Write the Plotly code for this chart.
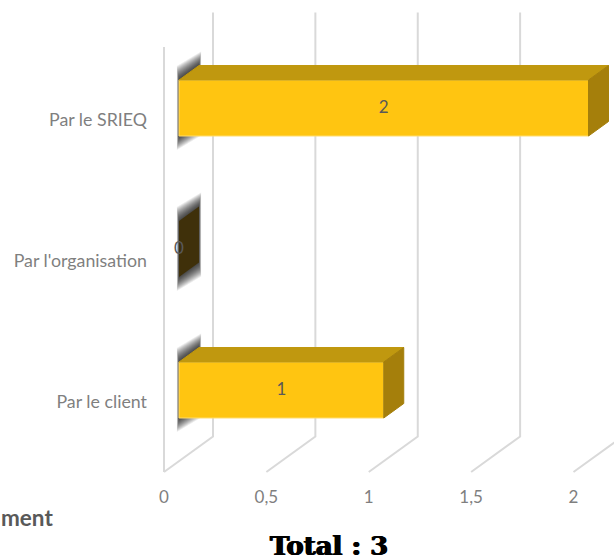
import plotly.graph_objects as go

categories = ["Par le client", "Par l'organisation", "Par le SRIEQ"]
values = [1, 0, 2]
x_ticks = [0, 0.5, 1, 1.5, 2]
x_tick_labels = ["0", "0,5", "1", "1,5", "2"]
total_label = "Total : 3"
cut_title = "ment"

FRONT, TOP, SIDE, LEFT = "#FFC511", "#C0980F", "#A57F0B", "#3F300A"
EDGE = "#FFDC6E"
GRID, TICK = "#D9D9D9", "#7F7F7F"

PX_X, PX_Y = 204.75, 141.0      # pixels per value unit / per category
L, H, FH = 150, 483, 558
def px_dx(p): return p / PX_X
def px_dy(p): return p / PX_Y

OFFSET = px_dx(15)
HALF = px_dy(28)
DX, DY = px_dx(20), px_dy(14.5)
GDX, GDY = px_dx(49), px_dy(35.5)
FLOOR = -82 / PX_Y
FRONT_TOP = 343 / PX_Y + 0
BACK_TOP = FLOOR + GDY + px_dy(424)

ys = list(range(len(categories)))
shapes = []

def poly(pts):
    return "M " + " L ".join(f"{a:.4f},{b:.4f}" for a, b in pts) + " Z"

# grid walls
for t in x_ticks:
    shapes.append(dict(type="path", layer="below", xref="x", yref="y",
                       path=f"M {t},{FLOOR:.4f} L {t+GDX:.4f},{FLOOR+GDY:.4f} L {t+GDX:.4f},{BACK_TOP:.4f}",
                       line=dict(color=GRID, width=2)))
shapes.append(dict(type="line", layer="below", xref="x", yref="y", x0=0, x1=0,
                   y0=FLOOR, y1=FRONT_TOP, line=dict(color=GRID, width=2)))

# soft shadow + dark end cap at each bar's base
for y in ys:
    x0 = OFFSET
    for k in range(14, 0, -1):
        ex, ey = px_dx(k * 0.15), px_dy(k)
        shapes.append(dict(type="path", layer="below", xref="x", yref="y",
                           path=poly([(x0 - ex, y + HALF + ey), (x0 + DX + ex, y + HALF + DY + ey),
                                      (x0 + DX + ex, y - HALF + DY - ey), (x0 - ex, y - HALF - ey)]),
                           fillcolor="rgba(0,0,0,0.08)", line=dict(width=0)))
    shapes.append(dict(type="path", layer="below", xref="x", yref="y",
                       path=poly([(x0, y + HALF), (x0 + DX, y + HALF + DY),
                                  (x0 + DX, y - HALF + DY), (x0, y - HALF)]),
                       fillcolor=LEFT, line=dict(width=0)))

fig = go.Figure()

fig.add_trace(go.Bar(y=ys, x=values, base=[OFFSET] * len(values), orientation="h", width=2 * HALF,
                     marker=dict(color=FRONT, line=dict(color=EDGE, width=[1 if v else 0 for v in values])),
                     hoverinfo="skip", showlegend=False))

for y, v in zip(ys, values):
    if v <= 0:
        continue
    xe = OFFSET + v
    fig.add_trace(go.Scatter(x=[OFFSET, xe, xe + DX, OFFSET + DX, OFFSET],
                             y=[y + HALF, y + HALF, y + HALF + DY, y + HALF + DY, y + HALF],
                             mode="lines", fill="toself", fillcolor=TOP,
                             line=dict(color=TOP, width=1), hoverinfo="skip", showlegend=False))
    fig.add_trace(go.Scatter(x=[xe, xe + DX, xe + DX, xe, xe],
                             y=[y + HALF, y + HALF + DY, y - HALF + DY, y - HALF, y + HALF],
                             mode="lines", fill="toself", fillcolor=SIDE,
                             line=dict(color=SIDE, width=1), hoverinfo="skip", showlegend=False))

fig.add_trace(go.Scatter(x=[OFFSET + v / 2 for v in values], y=[y - px_dy(1) for y in ys],
                         text=[str(v) for v in values], mode="text", textposition="middle center",
                         textfont=dict(family="Lato", size=17, color="#595959"),
                         hoverinfo="skip", showlegend=False))

W = 614 - L
LABEL_DROP = px_dy(12)
fig.update_layout(
    width=614, height=FH, margin=dict(l=L, r=0, t=0, b=FH - H),
    paper_bgcolor="white", plot_bgcolor="white", shapes=shapes, showlegend=False,
    xaxis=dict(range=[-14 / PX_X, -14 / PX_X + W / PX_X], tickvals=x_ticks, ticktext=x_tick_labels,
               showgrid=False, zeroline=False, showline=False, ticks="", fixedrange=True,
               tickfont=dict(family="Lato", size=17, color=TICK), ticklabelstandoff=2),
    yaxis=dict(range=[(390 - H) / PX_Y, 390 / PX_Y], tickvals=[y - LABEL_DROP for y in ys], ticktext=categories,
               showgrid=False, zeroline=False, showline=False, ticks="", fixedrange=True,
               tickfont=dict(family="Lato", size=17.8, color=TICK), ticklabelstandoff=2),
    annotations=[
        dict(text=f"<b>{cut_title}</b>", xref="paper", yref="paper", x=(55 - L) / W, y=(H - 517) / H,
             xanchor="right", yanchor="middle", showarrow=False,
             font=dict(family="Lato", size=22.5, color="#595959")),
        dict(text=f"<b>{total_label}</b>", xref="paper", yref="paper", x=(329 - L) / W, y=(H - 546) / H,
             xanchor="center", yanchor="middle", showarrow=False,
             font=dict(family="DejaVu Serif", size=26, color="#000000",
                       shadow="0.7px 0 0 #000, -0.7px 0 0 #000")),
    ],
)
fig.write_html("out.html", config={"displayModeBar": False}, post_script="document.body.style.margin='0';")
